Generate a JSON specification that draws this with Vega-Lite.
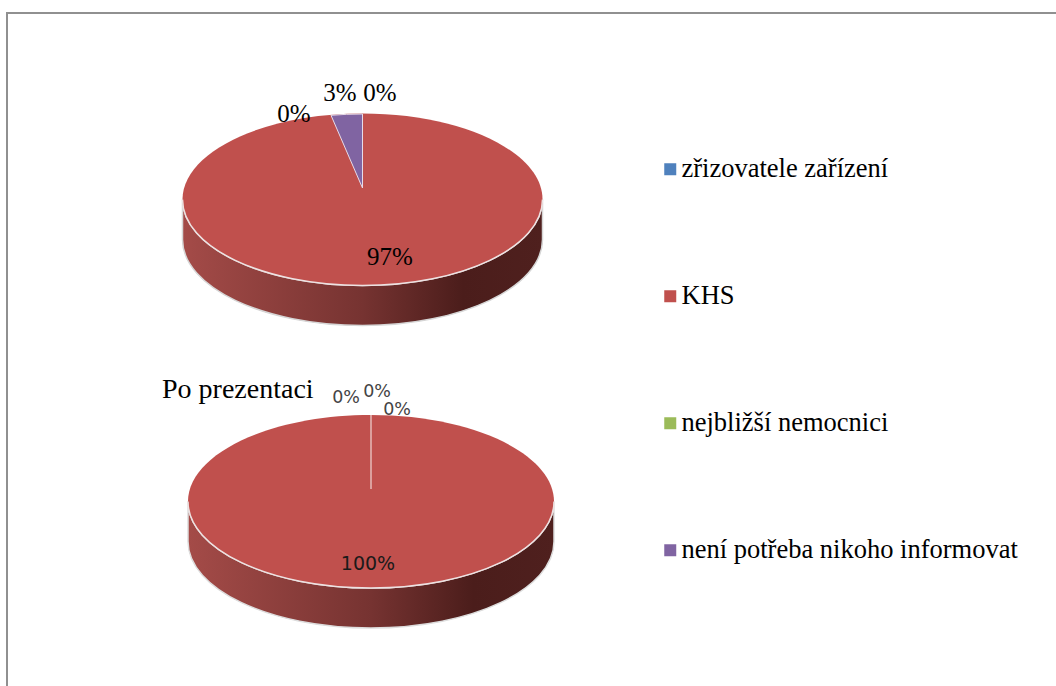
{
  "$schema": "https://vega.github.io/schema/vega-lite/v6.json",
  "width": 1056,
  "height": 686,
  "padding": 0,
  "autosize": "none",
  "background": "white",
  "view": {"stroke": null},
  "datasets": {
    "slices": [
      {"pie": "před", "category": "zřizovatele zařízení", "share": 0},
      {"pie": "před", "category": "KHS", "share": 0.97},
      {"pie": "před", "category": "nejbližší nemocnici", "share": 0},
      {"pie": "před", "category": "není potřeba nikoho informovat", "share": 0.03},
      {"pie": "po", "category": "zřizovatele zařízení", "share": 0},
      {"pie": "po", "category": "KHS", "share": 1},
      {"pie": "po", "category": "nejbližší nemocnici", "share": 0},
      {"pie": "po", "category": "není potřeba nikoho informovat", "share": 0}
    ]
  },
  "data": {"name": "slices"},
  "layer": [
    {
      "data": {"values": [{"edge": "left"}]},
      "mark": {"type": "rule", "color": "#909090", "strokeWidth": 2},
      "encoding": {
        "x": {"datum": 7, "type": "quantitative", "axis": null, "scale": {"domain": [0, 1056], "nice": false, "zero": false}},
        "y": {"datum": 12, "type": "quantitative", "axis": null, "scale": {"domain": [686, 0], "nice": false, "zero": false}},
        "y2": {"datum": 686}
      }
    },
    {
      "data": {"values": [{"edge": "top"}]},
      "mark": {"type": "rule", "color": "#909090", "strokeWidth": 2},
      "encoding": {
        "x": {"datum": 6, "type": "quantitative", "axis": null, "scale": {"domain": [0, 1056], "nice": false, "zero": false}},
        "x2": {"datum": 1056},
        "y": {"datum": 13, "type": "quantitative", "axis": null, "scale": {"domain": [686, 0], "nice": false, "zero": false}}
      }
    },
    {
      "transform": [{"filter": "datum.pie === 'před' && datum.category === 'KHS'"}],
      "mark": {
        "type": "point", "filled": true, "opacity": 1, "size": 4,
        "shape": "M-180,0 A180,86 0 0 0 180,0 L180,40 A180,86 0 0 1 -180,40 Z",
        "stroke": "#d6d6d6", "strokeWidth": 1.5,
        "color": {"gradient": "linear", "x1": 0, "y1": 0, "x2": 1, "y2": 0, "stops": [
          {"offset": 0, "color": "#a44b48"},
          {"offset": 0.5, "color": "#763331"},
          {"offset": 0.78, "color": "#4b1d1b"},
          {"offset": 1, "color": "#4f201e"}
        ]}
      },
      "encoding": {
        "x": {"datum": 362.5, "type": "quantitative", "axis": null, "scale": {"domain": [0, 1056], "nice": false, "zero": false}},
        "y": {"datum": 199.5, "type": "quantitative", "axis": null, "scale": {"domain": [686, 0], "nice": false, "zero": false}}
      }
    },
    {
      "transform": [{"filter": "datum.pie === 'po' && datum.category === 'KHS'"}],
      "mark": {
        "type": "point", "filled": true, "opacity": 1, "size": 4,
        "shape": "M-183,0 A183,86.5 0 0 0 183,0 L183,40 A183,86.5 0 0 1 -183,40 Z",
        "stroke": "#dddddd", "strokeWidth": 1.5,
        "color": {"gradient": "linear", "x1": 0, "y1": 0, "x2": 1, "y2": 0, "stops": [
          {"offset": 0, "color": "#a44b48"},
          {"offset": 0.5, "color": "#763331"},
          {"offset": 0.78, "color": "#4b1d1b"},
          {"offset": 1, "color": "#4f201e"}
        ]}
      },
      "encoding": {
        "x": {"datum": 371, "type": "quantitative", "axis": null, "scale": {"domain": [0, 1056], "nice": false, "zero": false}},
        "y": {"datum": 501.5, "type": "quantitative", "axis": null, "scale": {"domain": [686, 0], "nice": false, "zero": false}}
      }
    },
    {
      "transform": [{"filter": "datum.pie === 'před' && datum.category === 'KHS'"}],
      "mark": {
        "type": "point", "filled": true, "opacity": 1, "size": 4,
        "shape": "M-180,0 A180,86 0 1 1 180,0 A180,86 0 1 1 -180,0 Z",
        "strokeWidth": 0
      },
      "encoding": {
        "x": {"datum": 362.5, "type": "quantitative", "axis": null, "scale": {"domain": [0, 1056], "nice": false, "zero": false}},
        "y": {"datum": 199.5, "type": "quantitative", "axis": null, "scale": {"domain": [686, 0], "nice": false, "zero": false}},
        "color": {
          "field": "category", "type": "nominal",
          "scale": {
            "domain": ["zřizovatele zařízení", "KHS", "nejbližší nemocnici", "není potřeba nikoho informovat"],
            "range": ["#4f81bd", "#c0504d", "#9bbb59", "#8064a2"]
          },
          "legend": {
            "title": null, "orient": "none", "legendX": 657, "legendY": 156, "padding": 0,
            "symbolType": "square", "symbolSize": 144, "symbolStrokeWidth": 0, "symbolOpacity": 1,
            "labelFont": "Liberation Serif", "labelFontSize": 26.5, "labelColor": "#000000", "labelOffset": -2,
            "labelLimit": 500, "rowPadding": 100, "values": ["zřizovatele zařízení", "KHS", "nejbližší nemocnici", "není potřeba nikoho informovat"]
          }
        }
      }
    },
    {
      "transform": [{"filter": "datum.pie === 'po' && datum.category === 'KHS'"}],
      "mark": {
        "type": "point", "filled": true, "opacity": 1, "size": 4,
        "shape": "M-183,0 A183,86.5 0 1 1 183,0 A183,86.5 0 1 1 -183,0 Z",
        "strokeWidth": 0, "color": "#c0504d"
      },
      "encoding": {
        "x": {"datum": 371, "type": "quantitative", "axis": null, "scale": {"domain": [0, 1056], "nice": false, "zero": false}},
        "y": {"datum": 501.5, "type": "quantitative", "axis": null, "scale": {"domain": [686, 0], "nice": false, "zero": false}}
      }
    },
    {
      "transform": [{"filter": "datum.pie === 'před' && datum.category === 'KHS'"}],
      "mark": {
        "type": "point", "filled": false, "opacity": 1, "size": 4,
        "shape": "M-180,0 A180,86 0 0 0 180,0",
        "stroke": "#eee2e2", "strokeWidth": 1.5
      },
      "encoding": {
        "x": {"datum": 362.5, "type": "quantitative", "axis": null, "scale": {"domain": [0, 1056], "nice": false, "zero": false}},
        "y": {"datum": 199.5, "type": "quantitative", "axis": null, "scale": {"domain": [686, 0], "nice": false, "zero": false}}
      }
    },
    {
      "transform": [{"filter": "datum.pie === 'po' && datum.category === 'KHS'"}],
      "mark": {
        "type": "point", "filled": false, "opacity": 1, "size": 4,
        "shape": "M-183,0 A183,86.5 0 0 0 183,0",
        "stroke": "#eee2e2", "strokeWidth": 1.5
      },
      "encoding": {
        "x": {"datum": 371, "type": "quantitative", "axis": null, "scale": {"domain": [0, 1056], "nice": false, "zero": false}},
        "y": {"datum": 501.5, "type": "quantitative", "axis": null, "scale": {"domain": [686, 0], "nice": false, "zero": false}}
      }
    },
    {
      "transform": [{"filter": "datum.pie === 'před' && datum.share > 0 && datum.share < 0.5"}],
      "mark": {
        "type": "point", "filled": true, "opacity": 1, "size": 4,
        "shape": "M0,-11.5 L0,-85.5 A180,86 0 0 0 -31.5,-84.2 Z",
        "stroke": "#e6dcea", "strokeWidth": 1, "color": "#8064a2"
      },
      "encoding": {
        "x": {"datum": 362.5, "type": "quantitative", "axis": null, "scale": {"domain": [0, 1056], "nice": false, "zero": false}},
        "y": {"datum": 199.5, "type": "quantitative", "axis": null, "scale": {"domain": [686, 0], "nice": false, "zero": false}}
      }
    },
    {
      "transform": [{"filter": "datum.pie === 'po' && datum.category === 'KHS'"}],
      "mark": {"type": "rule", "color": "#dc9f9d", "strokeWidth": 2},
      "encoding": {
        "x": {"datum": 371, "type": "quantitative", "axis": null, "scale": {"domain": [0, 1056], "nice": false, "zero": false}},
        "y": {"datum": 415, "type": "quantitative", "axis": null, "scale": {"domain": [686, 0], "nice": false, "zero": false}},
        "y2": {"datum": 489}
      }
    },
    {
      "transform": [{"filter": "datum.pie === 'před' && datum.category === 'zřizovatele zařízení'"}],
      "mark": {"type": "text", "font": "Liberation Serif", "fontSize": 25, "color": "#000000"},
      "encoding": {
        "text": {"field": "share", "type": "quantitative", "format": ".0%"},
        "x": {"datum": 380, "type": "quantitative", "axis": null, "scale": {"domain": [0, 1056], "nice": false, "zero": false}},
        "y": {"datum": 93, "type": "quantitative", "axis": null, "scale": {"domain": [686, 0], "nice": false, "zero": false}}
      }
    },
    {
      "transform": [{"filter": "datum.pie === 'před' && datum.category === 'není potřeba nikoho informovat'"}],
      "mark": {"type": "text", "font": "Liberation Serif", "fontSize": 25, "color": "#000000"},
      "encoding": {
        "text": {"field": "share", "type": "quantitative", "format": ".0%"},
        "x": {"datum": 340, "type": "quantitative", "axis": null, "scale": {"domain": [0, 1056], "nice": false, "zero": false}},
        "y": {"datum": 93, "type": "quantitative", "axis": null, "scale": {"domain": [686, 0], "nice": false, "zero": false}}
      }
    },
    {
      "transform": [{"filter": "datum.pie === 'před' && datum.category === 'nejbližší nemocnici'"}],
      "mark": {"type": "text", "font": "Liberation Serif", "fontSize": 25, "color": "#000000"},
      "encoding": {
        "text": {"field": "share", "type": "quantitative", "format": ".0%"},
        "x": {"datum": 294, "type": "quantitative", "axis": null, "scale": {"domain": [0, 1056], "nice": false, "zero": false}},
        "y": {"datum": 114, "type": "quantitative", "axis": null, "scale": {"domain": [686, 0], "nice": false, "zero": false}}
      }
    },
    {
      "transform": [{"filter": "datum.pie === 'před' && datum.category === 'KHS'"}],
      "mark": {"type": "text", "font": "Liberation Serif", "fontSize": 25, "color": "#000000"},
      "encoding": {
        "text": {"field": "share", "type": "quantitative", "format": ".0%"},
        "x": {"datum": 390, "type": "quantitative", "axis": null, "scale": {"domain": [0, 1056], "nice": false, "zero": false}},
        "y": {"datum": 257, "type": "quantitative", "axis": null, "scale": {"domain": [686, 0], "nice": false, "zero": false}}
      }
    },
    {
      "transform": [{"filter": "datum.pie === 'po' && datum.category === 'KHS'"}],
      "mark": {"type": "text", "font": "DejaVu Sans", "fontSize": 19, "color": "#1a1a1a"},
      "encoding": {
        "text": {"field": "share", "type": "quantitative", "format": ".0%"},
        "x": {"datum": 368, "type": "quantitative", "axis": null, "scale": {"domain": [0, 1056], "nice": false, "zero": false}},
        "y": {"datum": 564, "type": "quantitative", "axis": null, "scale": {"domain": [686, 0], "nice": false, "zero": false}}
      }
    },
    {
      "transform": [{"filter": "datum.pie === 'po' && datum.category === 'nejbližší nemocnici'"}],
      "mark": {"type": "text", "font": "DejaVu Sans", "fontSize": 17.5, "color": "#444444"},
      "encoding": {
        "text": {"field": "share", "type": "quantitative", "format": ".0%"},
        "x": {"datum": 346, "type": "quantitative", "axis": null, "scale": {"domain": [0, 1056], "nice": false, "zero": false}},
        "y": {"datum": 397.5, "type": "quantitative", "axis": null, "scale": {"domain": [686, 0], "nice": false, "zero": false}}
      }
    },
    {
      "transform": [{"filter": "datum.pie === 'po' && datum.category === 'není potřeba nikoho informovat'"}],
      "mark": {"type": "text", "font": "DejaVu Sans", "fontSize": 17.5, "color": "#444444"},
      "encoding": {
        "text": {"field": "share", "type": "quantitative", "format": ".0%"},
        "x": {"datum": 377, "type": "quantitative", "axis": null, "scale": {"domain": [0, 1056], "nice": false, "zero": false}},
        "y": {"datum": 392, "type": "quantitative", "axis": null, "scale": {"domain": [686, 0], "nice": false, "zero": false}}
      }
    },
    {
      "transform": [{"filter": "datum.pie === 'po' && datum.category === 'zřizovatele zařízení'"}],
      "mark": {"type": "text", "font": "DejaVu Sans", "fontSize": 17.5, "color": "#444444"},
      "encoding": {
        "text": {"field": "share", "type": "quantitative", "format": ".0%"},
        "x": {"datum": 397, "type": "quantitative", "axis": null, "scale": {"domain": [0, 1056], "nice": false, "zero": false}},
        "y": {"datum": 410, "type": "quantitative", "axis": null, "scale": {"domain": [686, 0], "nice": false, "zero": false}}
      }
    },
    {
      "data": {"values": [{"caption": "Po prezentaci"}]},
      "mark": {"type": "text", "font": "Liberation Serif", "fontSize": 28, "color": "#000000", "align": "left"},
      "encoding": {
        "text": {"field": "caption", "type": "nominal"},
        "x": {"datum": 162, "type": "quantitative", "axis": null, "scale": {"domain": [0, 1056], "nice": false, "zero": false}},
        "y": {"datum": 390, "type": "quantitative", "axis": null, "scale": {"domain": [686, 0], "nice": false, "zero": false}}
      }
    }
  ]
}
